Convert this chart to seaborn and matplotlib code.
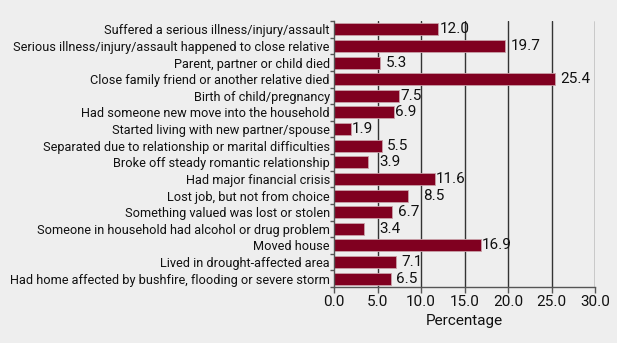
import matplotlib
matplotlib.use("Agg")
import matplotlib.pyplot as plt
import seaborn as sns
import pandas as pd

categories = [
    "Suffered a serious illness/injury/assault",
    "Serious illness/injury/assault happened to close relative",
    "Parent, partner or child died",
    "Close family friend or another relative died",
    "Birth of child/pregnancy",
    "Had someone new move into the household",
    "Started living with new partner/spouse",
    "Separated due to relationship or marital difficulties",
    "Broke off steady romantic relationship",
    "Had major financial crisis",
    "Lost job, but not from choice",
    "Something valued was lost or stolen",
    "Someone in household had alcohol or drug problem",
    "Moved house",
    "Lived in drought-affected area",
    "Had home affected by bushfire, flooding or severe storm",
]
values = [12.0, 19.7, 5.3, 25.4, 7.5, 6.9, 1.9, 5.5, 3.9, 11.6, 8.5, 6.7, 3.4, 16.9, 7.1, 6.5]
label_pad = [0.1, 0.6, 0.6, 0.6, 0.1, 0.1, 0.1, 0.6, 1.3, 0.1, 1.7, 0.6, 1.8, 0.1, 0.6, 0.6]
xticks = [0, 5, 10, 15, 20, 25, 30]
xlabel = "Percentage"

bg = "#EEEEEE"
bar_color = "#800020"

sns.set_theme(style="white")
plt.rcParams["font.family"] = ["Roboto", "DejaVu Sans"]

df = pd.DataFrame({"cat": categories, "val": values})

fig = plt.figure(figsize=(6.17, 3.43), dpi=100, facecolor=bg)
ax = fig.add_axes([334/617, 1-287/343, (595-334)/617, (287-21)/343])
ax.set_facecolor(bg)

for x in xticks[1:]:
    ax.axvline(x, color="#333333", lw=1.0, zorder=0)

sns.barplot(data=df, x="val", y="cat", orient="h", color=bar_color, width=0.72,
            edgecolor="#C9A0A8", linewidth=0.6, saturation=1, ax=ax, zorder=2)

for i, (v, p) in enumerate(zip(values, label_pad)):
    ax.text(v + p, i, f"{v:.1f}", va="center", ha="left", fontsize=11, color="#111111")

ax.set_xlim(0, 30)
ax.set_ylim(15.5, -0.5)
ax.set_xticks(xticks)
ax.set_xticklabels([f"{t:.1f}" for t in xticks], fontsize=11, color="#111111")
ax.set_yticks(range(len(categories)))
ax.set_yticklabels(categories, fontsize=10, color="#111111")
ax.set_xlabel(xlabel, fontsize=11, color="#111111", labelpad=3)
ax.set_ylabel("")

for s in ["top", "right"]:
    ax.spines[s].set_visible(False)
for s in ["left", "bottom"]:
    ax.spines[s].set_color("#555555")
    ax.spines[s].set_linewidth(1.0)

ax.tick_params(axis="x", length=4, width=1, color="#555555", pad=2, bottom=True)
ax.tick_params(axis="y", length=0, pad=3)
ax.set_yticks([i + 0.5 for i in range(-1, len(categories))], minor=True)
ax.tick_params(axis="y", which="minor", length=3, width=1, color="#555555", left=True)

# shrink y labels so the longest fits the space left of the axes
fig.canvas.draw()
r = fig.canvas.get_renderer()
maxw = max(t.get_window_extent(r).width for t in ax.get_yticklabels())
fs = 10 * 322 / maxw
for t in ax.get_yticklabels():
    t.set_fontsize(fs)

fig.savefig("out.png", dpi=100, facecolor=bg)
